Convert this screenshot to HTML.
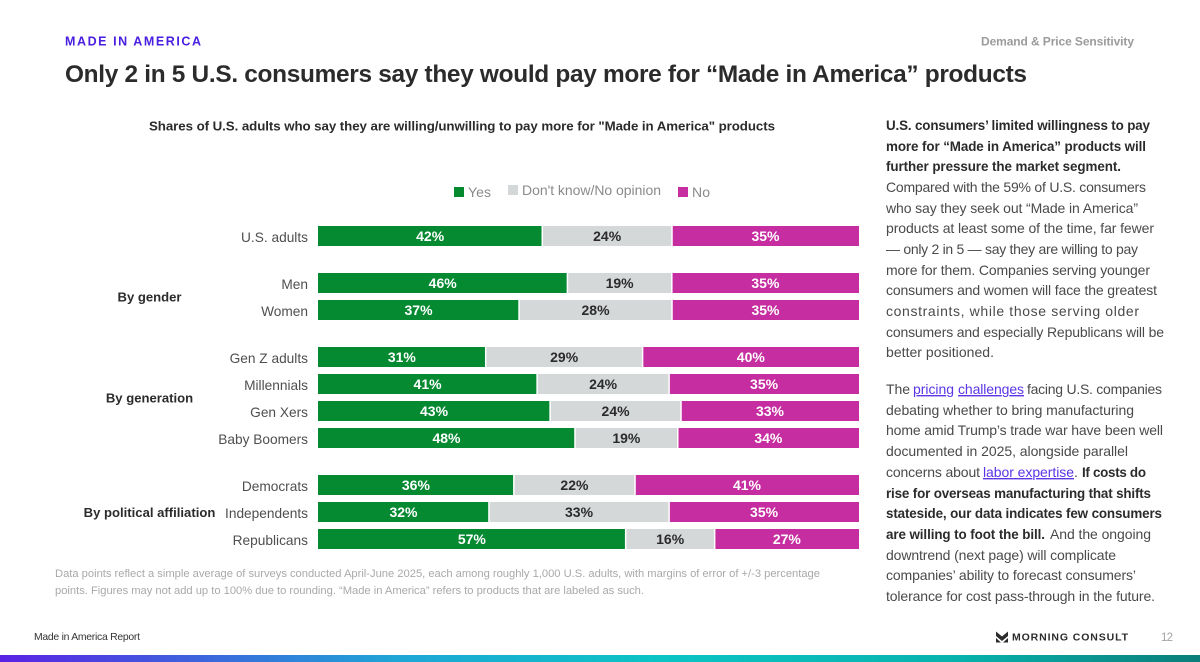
<!DOCTYPE html>
<html lang="en">
<head>
<meta charset="utf-8">
<title>Made in America</title>
<style>
html,body{margin:0;padding:0;background:#fff;}
body{width:1200px;height:662px;overflow:hidden;}
svg{display:block;font-family:"Liberation Sans",Arial,sans-serif;}
.b{font-size:14px;fill:#4a4a4a;}
.s{font-size:13.4px;font-weight:700;fill:#2b2b2b;}
.l{fill:#5b35e6;text-decoration:underline;}
</style>
</head>
<body>
<svg id="page" xmlns="http://www.w3.org/2000/svg" width="1200" height="662" viewBox="0 0 1200 662">
<defs>
<linearGradient id="footerGrad" x1="0" y1="0" x2="1" y2="0">
<stop offset="0" stop-color="#5a22e4"/>
<stop offset="0.33" stop-color="#1fa6d6"/>
<stop offset="0.55" stop-color="#0cc4c4"/>
<stop offset="0.8" stop-color="#08b2ac"/>
<stop offset="1" stop-color="#0b7d7a"/>
</linearGradient>
</defs>
<rect width="1200" height="662" fill="#fff"/>
<text x="65" y="45.5" font-size="12.5" font-weight="700" fill="#4a1fe0" textLength="136">MADE IN AMERICA</text>
<text x="981" y="45.5" font-size="12" font-weight="700" fill="#9b9b9b" textLength="153">Demand &amp; Price Sensitivity</text>
<text x="65" y="82" font-size="24.4" font-weight="700" fill="#2b2b2b" textLength="962">Only 2 in 5 U.S. consumers say they would pay more for “Made in America” products</text>
<text x="149" y="130.5" font-size="13.3" font-weight="700" fill="#2b2b2b" textLength="626">Shares of U.S. adults who say they are willing/unwilling to pay more for "Made in America" products</text>

<g id="legend">
<g><rect x="454" y="187" width="10" height="10" fill="#058a32"/><text x="468" y="197" font-size="14" fill="#8a8a8a" textLength="23">Yes</text></g>
<g><rect x="508" y="185" width="10" height="10" fill="#d5d8d9"/><text x="522" y="195" font-size="14" fill="#8a8a8a" textLength="139">Don't know/No opinion</text></g>
<g><rect x="678" y="187" width="10" height="10" fill="#c62da0"/><text x="692" y="197" font-size="14" fill="#8a8a8a" textLength="18">No</text></g>
</g>

<g id="chart"></g>

<g font-size="11.2" fill="#a9a9a9">
<text x="55" y="577" textLength="765">Data points reflect a simple average of surveys conducted April-June 2025, each among roughly 1,000 U.S. adults, with margins of error of +/-3 percentage</text>
<text x="55" y="594" textLength="589">points. Figures may not add up to 100% due to rounding. “Made in America” refers to products that are labeled as such.</text>
</g>

<g>
<text class="s" x="886" y="130" textLength="264">U.S. consumers’ limited willingness to pay</text>
<text class="s" x="886" y="151" textLength="260">more for “Made in America” products will</text>
<text class="s" x="886" y="171" textLength="235">further pressure the market segment.</text>
<text class="b" x="886" y="192" textLength="260">Compared with the 59% of U.S. consumers</text>
<text class="b" x="886" y="213" textLength="252">who say they seek out “Made in America”</text>
<text class="b" x="886" y="233" textLength="268">products at least some of the time, far fewer</text>
<text class="b" x="886" y="254" textLength="252">— only 2 in 5 — say they are willing to pay</text>
<text class="b" x="886" y="275" textLength="264">more for them. Companies serving younger</text>
<text class="b" x="886" y="295" textLength="271">consumers and women will face the greatest</text>
<text class="b" x="886" y="316" textLength="253">constraints, while those serving older</text>
<text class="b" x="886" y="337" textLength="278">consumers and especially Republicans will be</text>
<text class="b" x="886" y="357" textLength="108">better positioned.</text>
</g>
<g>
<text class="b" x="886" y="394" textLength="24">The</text>
<text class="b l" x="913" y="394" textLength="41">pricing</text>
<text class="b l" x="958" y="394" textLength="66">challenges</text>
<text class="b" x="1027" y="394" textLength="135">facing U.S. companies</text>
<text class="b" x="886" y="415" textLength="248">debating whether to bring manufacturing</text>
<text class="b" x="886" y="435" textLength="277">home amid Trump’s trade war have been well</text>
<text class="b" x="886" y="456" textLength="242">documented in 2025, alongside parallel</text>
<text class="b" x="886" y="477" textLength="94">concerns about</text>
<text class="b l" x="983" y="477" textLength="91">labor expertise</text>
<text class="b" x="1074" y="477">.</text>
<text class="s" x="1082" y="477" textLength="64">If costs do</text>
<text class="s" x="886" y="498" textLength="265">rise for overseas manufacturing that shifts</text>
<text class="s" x="886" y="518" textLength="276">stateside, our data indicates few consumers</text>
<text class="s" x="886" y="539" textLength="159">are willing to foot the bill.</text>
<text class="b" x="1050" y="539" textLength="101">And the ongoing</text>
<text class="b" x="886" y="560" textLength="230">downtrend (next page) will complicate</text>
<text class="b" x="886" y="580" textLength="250">companies’ ability to forecast consumers’</text>
<text class="b" x="886" y="601" textLength="269">tolerance for cost pass-through in the future.</text>
</g>

<text x="34" y="640" font-size="10.4" fill="#333" textLength="106">Made in America Report</text>
<g>
<path d="M996 631.500L1002 636.500L1008 631.500V636L1002 641L996 636ZM996 638L1001 642.500H996ZM1008 638V642.500H1003Z" fill="#2b2b2b"/>
<text x="1012" y="640.500" font-size="10.500" font-weight="700" fill="#2b2b2b" textLength="116">MORNING CONSULT</text>
</g>
<text x="1161" y="641" font-size="11.500" fill="#a3a3a3" textLength="12">12</text>
<rect x="0" y="655" width="1200" height="7" fill="url(#footerGrad)"/>
</svg>

<script>
const categories = ["U.S. adults","Men","Women","Gen Z adults","Millennials","Gen Xers","Baby Boomers","Democrats","Independents","Republicans"];
const groupOfRow = [0,1,1,2,2,2,2,3,3,3];
const groupNames = ["","By gender","By generation","By political affiliation"];
const yesValues = [41.5,46.1,37.2,31.0,40.5,42.9,47.5,36.2,31.6,56.7];
const dontKnowValues = [24.0,19.3,28.3,29.0,24.4,24.2,19.0,22.4,33.3,16.4];
const noValues = [34.6,34.6,34.6,40.0,35.1,32.9,33.5,41.4,35.1,26.6];
const seriesKeys = ["yes","dont-know","no"];
const seriesValues = [yesValues,dontKnowValues,noValues];
const seriesColors = ["#058a32","#d5d8d9","#c62da0"];
const labelColors = ["#ffffff","#2b2b2b","#ffffff"];

const NS = "http://www.w3.org/2000/svg";
const chart = document.getElementById("chart");
const plotLeft = 318, plotWidth = 541, barHeight = 20;
function xScale(share){ return plotLeft + share / 100 * plotWidth; }
function yScale(i){ return 226 + 27 * i + 20 * groupOfRow[i]; }

categories.forEach(function(name, i){
  const label = document.createElementNS(NS, "text");
  
  
  label.setAttribute("x", 308);
  label.setAttribute("y", yScale(i) + 16);
  label.setAttribute("text-anchor", "end");
  label.setAttribute("font-size", "13.7");
  label.setAttribute("fill", "#4f4f4f");
  label.textContent = name;
  chart.appendChild(label);

  const total = yesValues[i] + dontKnowValues[i] + noValues[i];
  let cum = 0;
  seriesValues.forEach(function(vals, s){
    const x0 = xScale(cum / total * 100);
    const x1 = xScale((cum + vals[i]) / total * 100);
    const bar = document.createElementNS(NS, "rect");
    
    
    bar.setAttribute("data-series", seriesKeys[s]);
    bar.setAttribute("x", x0 + (s > 0 ? 0.75 : 0));
    bar.setAttribute("y", yScale(i));
    bar.setAttribute("width", Math.max(0, x1 - x0 - (s === 1 ? 1.5 : 0.75)));
    bar.setAttribute("height", barHeight);
    bar.setAttribute("fill", seriesColors[s]);
    chart.appendChild(bar);

    const val = document.createElementNS(NS, "text");
    
    
    val.setAttribute("x", (x0 + x1) / 2);
    val.setAttribute("y", yScale(i) + 15);
    val.setAttribute("text-anchor", "middle");
    val.setAttribute("font-size", "14");
    val.setAttribute("font-weight", "700");
    val.setAttribute("fill", labelColors[s]);
    val.textContent = Math.round(vals[i]) + "%";
    chart.appendChild(val);
    cum += vals[i];
  });
});

groupNames.forEach(function(name, g){
  if (!name) return;
  const rows = [];
  groupOfRow.forEach(function(v, i){ if (v === g) rows.push(yScale(i)); });
  const mean = rows.reduce(function(a, b){ return a + b; }, 0) / rows.length;
  const t = document.createElementNS(NS, "text");
  
  
  t.setAttribute("x", 149.5);
  t.setAttribute("y", mean + 15);
  t.setAttribute("text-anchor", "middle");
  t.setAttribute("font-size", "13.1");
  t.setAttribute("font-weight", "700");
  t.setAttribute("fill", "#2b2b2b");
  t.textContent = name;
  chart.appendChild(t);
});
</script>
</body>
</html>
